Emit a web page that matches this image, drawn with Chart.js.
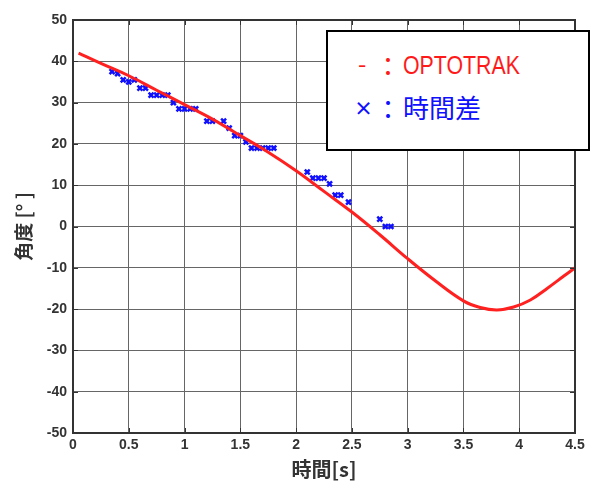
<!DOCTYPE html>
<html>
<head>
<meta charset="utf-8">
<script src="https://cdn.jsdelivr.net/npm/chart.js@4/dist/chart.umd.min.js"></script>
<style>
  html, body { margin: 0; padding: 0; background: #fff; }
  #wrap { position: relative; width: 609px; height: 481px; }
  #legend {
    position: absolute; left: 326px; top: 30px; width: 264px; height: 121px;
    box-sizing: border-box; border: 2px solid #000; background: #fff;
    font-family: "Noto Sans CJK JP", sans-serif;
  }
  #legend span { position: absolute; line-height: 1; white-space: nowrap; }
  .red { color: #ff1a1a; }
  .blue { color: #1010ff; }
</style>
</head>
<body>
<div id="wrap">
  <canvas id="chart" width="609" height="481"></canvas>
  <div id="legend">
    <span class="red" style="left:30px;top:19px;font-size:24px;">-</span>
    <span class="red" style="left:47px;top:20px;font-size:26px;">：</span>
    <span class="red" style="left:75px;top:20px;font-size:26px;transform:scaleX(0.82);transform-origin:left center;font-family:'Liberation Sans',sans-serif;">OPTOTRAK</span>
    <span class="blue" style="left:26px;top:66px;font-size:19px;font-weight:bold;">×</span>
    <span class="blue" style="left:47px;top:63px;font-size:26px;">：</span>
    <span class="blue" style="left:75px;top:62px;font-size:26px;">時間差</span>
  </div>
</div>
<script>
// OPTOTRAK measured angle (red line)
const lineTimes  = [0.05, 0.25, 0.5, 0.75, 1.0, 1.25, 1.5, 1.75, 2.0, 2.25, 2.5, 2.75, 3.0, 3.25, 3.5, 3.65, 3.8, 3.95, 4.1, 4.25, 4.4, 4.5];
const lineAngles = [42, 39.5, 36.5, 33, 29.5, 26, 22, 18, 13.5, 8.5, 3.5, -2, -7.8, -13.2, -18, -19.6, -20.2, -19.5, -17.8, -15, -12, -10];

// time-difference estimate (blue crosses)
const diffTimes  = [0.35, 0.40, 0.45, 0.50, 0.55, 0.60, 0.65, 0.70, 0.75, 0.80, 0.85, 0.90, 0.95, 1.00, 1.05, 1.10,
                    1.20, 1.25, 1.35, 1.40, 1.45, 1.50, 1.55, 1.60, 1.65, 1.70, 1.75, 1.80,
                    2.10, 2.15, 2.20, 2.25, 2.30, 2.35, 2.40, 2.47, 2.75, 2.80, 2.85];
const diffAngles = [37.5, 37, 35.5, 35, 35.5, 33.5, 33.5, 31.8, 31.8, 31.8, 31.8, 30, 28.5, 28.5, 28.5, 28.5,
                    25.5, 25.5, 25.5, 23.8, 22, 22, 20.5, 19, 19, 19, 19, 19,
                    13.2, 11.7, 11.7, 11.7, 10.3, 7.6, 7.6, 5.9, 1.8, 0, 0];

const xTicks = [0, 0.5, 1, 1.5, 2, 2.5, 3, 3.5, 4, 4.5];
const yTicks = [50, 40, 30, 20, 10, 0, -10, -20, -30, -40, -50];

const tickFont = { family: 'Liberation Sans, Arial, sans-serif', size: 14, weight: 'bold' };

const frame = {
  id: 'frame',
  afterDraw(chart) {
    const { ctx, chartArea: a, scales: { x, y } } = chart;
    ctx.save();
    ctx.strokeStyle = '#333';
    ctx.lineWidth = 1;
    ctx.beginPath();
    xTicks.forEach(v => {
      const px = Math.round(x.getPixelForValue(v)) + 0.5;
      ctx.moveTo(px, a.bottom); ctx.lineTo(px, a.bottom - 5);
      ctx.moveTo(px, a.top); ctx.lineTo(px, a.top + 5);
    });
    yTicks.forEach(v => {
      const py = Math.round(y.getPixelForValue(v)) + 0.5;
      ctx.moveTo(a.left, py); ctx.lineTo(a.left + 5, py);
      ctx.moveTo(a.right, py); ctx.lineTo(a.right - 5, py);
    });
    ctx.stroke();
    ctx.lineWidth = 2;
    ctx.strokeRect(a.left, a.top, a.right - a.left, a.bottom - a.top);
    ctx.restore();
  }
};

new Chart(document.getElementById('chart'), {
  type: 'line',
  data: {
    datasets: [
      {
        label: 'OPTOTRAK',
        data: lineTimes.map((t, i) => ({ x: t, y: lineAngles[i] })),
        borderColor: '#ff2020',
        borderWidth: 3,
        pointRadius: 0,
        tension: 0.4,
        fill: false
      },
      {
        label: '時間差',
        data: diffTimes.map((t, i) => ({ x: t, y: diffAngles[i] })),
        showLine: false,
        pointStyle: 'crossRot',
        pointRadius: 3.5,
        borderColor: '#1010ff',
        borderWidth: 2.5
      }
    ]
  },
  options: {
    responsive: false,
    animation: false,
    layout: { padding: { top: 20, right: 34, left: 12, bottom: 0 } },
    plugins: { legend: { display: false }, tooltip: { enabled: false } },
    scales: {
      x: {
        type: 'linear', min: 0, max: 4.5,
        afterBuildTicks: s => { s.ticks = xTicks.map(v => ({ value: v })); },
        afterFit: s => { s.height = 48; },
        ticks: { color: '#333', font: tickFont, padding: 4, maxRotation: 0,
                 callback: v => String(v) },
        grid: { color: '#666', borderDash: [2, 3], drawTicks: false },
        border: { display: false },
        title: { display: true, text: '時間[s]', color: '#333', padding: 0,
                 font: { family: 'Noto Sans CJK JP', size: 20, weight: 'bold' } }
      },
      y: {
        min: -50, max: 50,
        afterBuildTicks: s => { s.ticks = yTicks.map(v => ({ value: v })); },
        afterFit: s => { s.width = 61; },
        ticks: { color: '#333', font: tickFont, padding: 6, callback: v => String(v) },
        grid: { color: '#666', borderDash: [2, 3], drawTicks: false },
        border: { display: false },
        title: { display: true, text: '角度 [° ]', color: '#333', padding: 0,
                 font: { family: 'Noto Sans CJK JP', size: 19, weight: 'bold' } }
      }
    }
  },
  plugins: [frame]
});
</script>
</body>
</html>
